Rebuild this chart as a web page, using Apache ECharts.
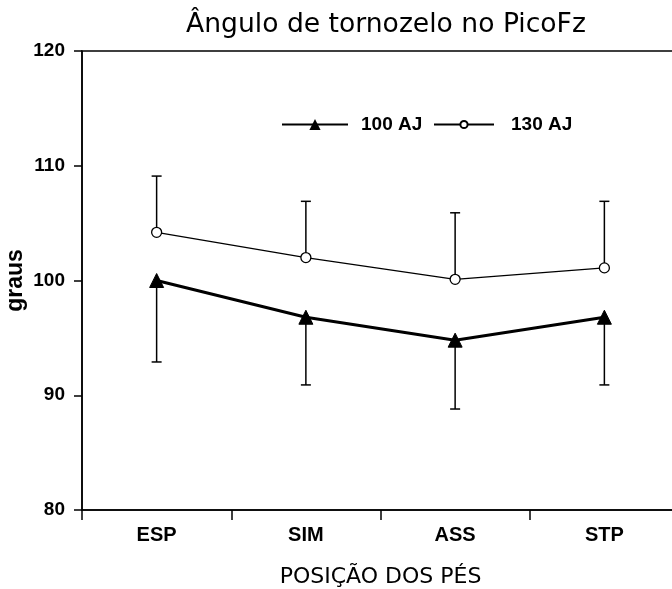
<!DOCTYPE html>
<html>
<head>
<meta charset="utf-8">
<script src="https://cdn.jsdelivr.net/npm/echarts@6/dist/echarts.min.js"></script>
<style>
  html, body { margin: 0; padding: 0; background: #fff; }
  #main { width: 672px; height: 589px; }
</style>
</head>
<body>
<div id="main"></div>
<script>
// categories on the x axis
var positions = ['ESP', 'SIM', 'ASS', 'STP'];
// 100 AJ: mean and lower error bar end
var aj100 = [100, 96.8, 94.8, 96.8];
var aj100Low = [92.9, 90.9, 88.8, 90.9];
// 130 AJ: mean and upper error bar end
var aj130 = [104.2, 102, 100.1, 101.1];
var aj130High = [109.1, 106.9, 105.9, 106.9];

var yTicks = [80, 90, 100, 110, 120];

var boldFont = "'Liberation Sans', Arial, sans-serif";

function errBars(means, ends) {
  return means.map(function (m, i) { return [i, m, ends[i]]; });
}

function renderErr(params, api) {
  var p0 = api.coord([api.value(0), api.value(1)]);
  var p1 = api.coord([api.value(0), api.value(2)]);
  var half = 5;
  var st = { stroke: '#000', lineWidth: 1.5 };
  return {
    type: 'group',
    children: [
      { type: 'line', shape: { x1: p0[0], y1: p0[1], x2: p1[0], y2: p1[1] }, style: st },
      { type: 'line', shape: { x1: p1[0] - half, y1: p1[1], x2: p1[0] + half, y2: p1[1] }, style: st }
    ]
  };
}

var myChart = echarts.init(document.getElementById('main'));
myChart.setOption({
  animation: false,
  backgroundColor: '#fff',
  title: {
    text: 'Ângulo de tornozelo no PicoFz',
    left: 181,
    top: 7,
    textStyle: { fontFamily: "'DejaVu Sans', sans-serif", fontWeight: 'normal', fontSize: 26.6, color: '#000' }
  },
  legend: [
    {
      data: ['100 AJ'],
      left: 276,
      top: 110,
      itemWidth: 66,
      itemHeight: 14,
      textStyle: { fontFamily: boldFont, fontWeight: 'bold', fontSize: 19, color: '#000', padding: [0, 0, 0, 8] }
    },
    {
      data: ['130 AJ'],
      left: 428,
      top: 110,
      itemWidth: 60,
      itemHeight: 9,
      textStyle: { fontFamily: boldFont, fontWeight: 'bold', fontSize: 19, color: '#000', padding: [0, 0, 0, 12] }
    }
  ],
  grid: {
    left: 82,
    top: 51,
    width: 597,
    bottom: 79,
    outerBoundsMode: 'none',
    show: true,
    borderColor: '#000',
    borderWidth: 1.5
  },
  xAxis: {
    type: 'category',
    data: positions,
    boundaryGap: true,
    name: 'POSIÇÃO DOS PÉS',
    nameLocation: 'middle',
    nameGap: 56,
    nameTextStyle: { fontFamily: "'DejaVu Sans', sans-serif", fontSize: 22, color: '#000' },
    axisLine: { lineStyle: { color: '#000', width: 1.5 } },
    axisTick: { show: true, length: 10, alignWithLabel: false, lineStyle: { color: '#000', width: 1.5 } },
    axisLabel: { margin: 15, fontFamily: boldFont, fontWeight: 'bold', fontSize: 20, color: '#000' },
    splitLine: { show: false }
  },
  yAxis: {
    type: 'value',
    min: yTicks[0],
    max: yTicks[yTicks.length - 1],
    interval: 10,
    name: 'graus',
    nameLocation: 'middle',
    nameRotate: 90,
    nameGap: 55,
    nameMoveOverlap: false,
    nameTextStyle: { fontFamily: boldFont, fontWeight: 'bold', fontSize: 23, color: '#000' },
    axisLine: { show: true, lineStyle: { color: '#000', width: 1.5 } },
    axisTick: { show: true, length: 8, lineStyle: { color: '#000', width: 1.5 } },
    axisLabel: { margin: 17, fontFamily: boldFont, fontWeight: 'bold', fontSize: 19, color: '#000' },
    splitLine: { show: false }
  },
  series: [
    {
      type: 'custom',
      renderItem: renderErr,
      data: errBars(aj100, aj100Low),
      encode: { x: 0, y: [1, 2] },
      z: 1,
      silent: true
    },
    {
      type: 'custom',
      renderItem: renderErr,
      data: errBars(aj130, aj130High),
      encode: { x: 0, y: [1, 2] },
      z: 1,
      silent: true
    },
    {
      name: '100 AJ',
      type: 'line',
      data: aj100,
      symbol: 'triangle',
      symbolSize: 14,
      lineStyle: { color: '#000', width: 3 },
      itemStyle: { color: '#000', borderColor: '#000' },
      z: 3
    },
    {
      name: '130 AJ',
      type: 'line',
      data: aj130,
      symbol: 'circle',
      symbolSize: 10,
      lineStyle: { color: '#000', width: 1.3 },
      itemStyle: { color: '#fff', borderColor: '#000', borderWidth: 1.3 },
      z: 3
    }
  ]
});
</script>
</body>
</html>
